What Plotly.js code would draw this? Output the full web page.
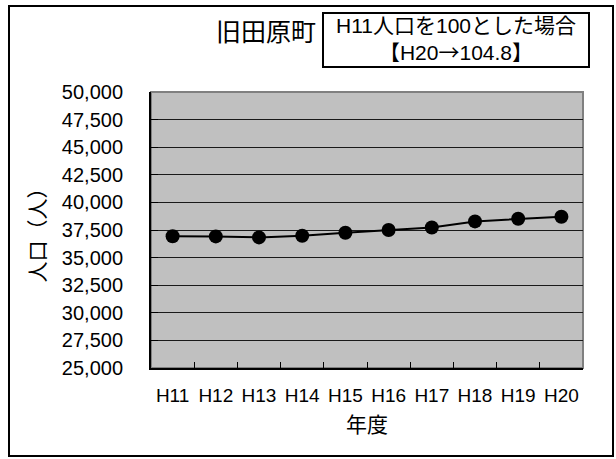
<!DOCTYPE html>
<html>
<head>
<meta charset="utf-8">
<script src="https://cdn.plot.ly/plotly-3.0.1.min.js"></script>
<style>
  html, body { margin: 0; padding: 0; background: #fff; }
  #chart { width: 616px; height: 459px; }
</style>
</head>
<body>
<div id="chart"></div>
<script>
// Fiscal years (Heisei era) and population of former Tahara town
const years = ['H11', 'H12', 'H13', 'H14', 'H15', 'H16', 'H17', 'H18', 'H19', 'H20'];
const population = [36930, 36920, 36830, 36980, 37250, 37500, 37730, 38280, 38520, 38700];
const yTickValues = [25000, 27500, 30000, 32500, 35000, 37500, 40000, 42500, 45000, 47500, 50000];

const townName = '旧田原町';
const indexNote = 'H11人口を100とした場合<br>【H20<span style="font-family:\'Noto Sans CJK JP\'">→</span>104.8】';
const xTitle = '年度';
const yTitle = '人口（人）';

const W = 616, H = 459;
const M = { l: 151, r: 33, t: 92, b: 91 };
const plotW = W - M.l - M.r, plotH = H - M.t - M.b;
// pixel position -> paper coordinates
const px = x => (x - M.l) / plotW;
const py = y => (H - M.b - y) / plotH;

const FONT = '"Liberation Sans", "Noto Sans CJK JP", sans-serif';

const trace = {
  type: 'scatter',
  mode: 'lines+markers',
  x: years,
  y: population,
  line: { color: '#000', width: 2 },
  marker: { color: '#000', size: 14 },
  hoverinfo: 'x+y'
};

const layout = {
  width: W,
  height: H,
  margin: M,
  paper_bgcolor: '#fff',
  plot_bgcolor: '#c0c0c0',
  showlegend: false,
  font: { family: FONT, color: '#000', size: 18 },
  xaxis: {
    type: 'category',
    range: [-0.5, years.length - 0.5],
    showline: true, linecolor: '#000', linewidth: 2,
    showgrid: false, zeroline: false,
    ticks: 'inside', ticklen: 6, tickcolor: '#000', tickwidth: 1,
    tickson: 'boundaries',
    tickangle: 0,
    ticklabelstandoff: 9,
    tickfont: { family: FONT, size: 19, color: '#000' },
    title: { text: xTitle, font: { family: FONT, size: 21, color: '#000' }, standoff: 13 }
  },
  yaxis: {
    range: [25000, 50000],
    tickvals: yTickValues,
    tickformat: ',d',
    showline: true, linecolor: '#000', linewidth: 2,
    showgrid: true, gridcolor: '#1a1a1a', gridwidth: 1,
    zeroline: false,
    ticks: 'inside', ticklen: 7, tickcolor: '#000', tickwidth: 1,
    ticklabelstandoff: 22,
    tickfont: { family: FONT, size: 20, color: '#000' },
    title: { text: yTitle, font: { family: FONT, size: 21, color: '#000' }, standoff: 10 }
  },
  shapes: [
    // plot frame (top/right edges show in grey)
    { type: 'rect', xref: 'paper', yref: 'paper', x0: 0, x1: 1, y0: 0, y1: 1,
      line: { color: '#808080', width: 2 }, layer: 'below' },
    // chart outer border
    { type: 'rect', xref: 'paper', yref: 'paper',
      x0: px(9), x1: px(613), y0: py(456), y1: py(6),
      line: { color: '#000', width: 2 }, layer: 'above' }
  ],
  annotations: [
    { xref: 'paper', yref: 'paper', x: px(266), y: py(32),
      xanchor: 'center', yanchor: 'middle', showarrow: false,
      text: townName, font: { family: FONT, size: 25, color: '#000' } },
    { xref: 'paper', yref: 'paper', x: px(456), y: py(40),
      xanchor: 'center', yanchor: 'middle', showarrow: false,
      text: indexNote, align: 'center',
      width: 262, height: 50, borderpad: 1,
      bordercolor: '#000', borderwidth: 2, bgcolor: '#fff',
      font: { family: FONT, size: 21, color: '#000' } }
  ]
};

Plotly.newPlot('chart', [trace], layout, { staticPlot: true, displayModeBar: false });
</script>
</body>
</html>
